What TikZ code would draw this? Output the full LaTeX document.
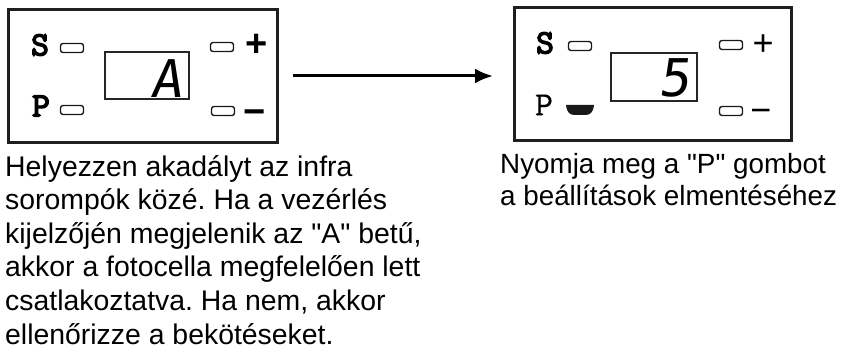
\documentclass[tikz,border=0pt]{standalone}
\usepackage{fontspec}
\setmainfont{Liberation Sans}[Ligatures=TeXOff]
\newfontfamily\segfnt{DejaVu Sans Mono}
\newfontfamily\keyfntb{lmmono10-regular.otf}[FakeBold=4]
\newfontfamily\keyfntr{lmmono10-regular.otf}[FakeBold=0.6]
\usetikzlibrary{arrows.meta}
\begin{document}
\frenchspacing
\begin{tikzpicture}[x=1pt,y=-1pt,
  panel/.style={draw=black!88, line width=3pt, inner sep=0pt, outer sep=0pt},
  display/.style={draw=black!85, line width=1.3pt, inner sep=0pt},
  btn/.style={draw=black!90, line width=1.4pt, rounded corners=2.5pt, minimum width=23pt, minimum height=9pt, inner sep=0pt},
  keyb/.style={inner sep=0pt, font=\keyfntb\fontsize{34}{34}\selectfont},
  keyr/.style={inner sep=0pt, font=\keyfntr\fontsize{34}{34}\selectfont},
  signb/.style={inner sep=0pt, font=\bfseries\fontsize{38}{38}\selectfont},
  signr/.style={inner sep=0pt, font=\fontsize{36}{36}\selectfont},
  seg/.style={inner sep=0pt, font=\segfnt\fontsize{52}{52}\selectfont, xslant=0.15},
  caption/.style={inner sep=0pt, anchor=base west},
  flow/.style={line width=3pt, -{Latex[length=18pt,width=15pt]}}
]
\useasboundingbox (0,0) rectangle (848,350);
% left panel
\node[panel, minimum width=269pt, minimum height=132pt] (lpanel) at (142.5,76) {};
\node[display, minimum width=84pt, minimum height=47pt] (ldisp) at (147,75.5) {};
\node[seg] (lchar) at (169,79) {A};
\node[keyb] (lS) at (40,45) {S};
\node[keyb] (lP) at (41,106) {P};
\node[btn] (lSb) at (72,48) {};
\node[btn] (lPb) at (72,110) {};
\node[btn] (lplb) at (222,47) {};
\node[btn] (lmib) at (223,111) {};
\node[signb] (lplus) at (257,45) {+};
\node[signb] (lminus) at (255,117) {−};
% right panel
\node[panel, minimum width=277pt, minimum height=132pt] (rpanel) at (652.5,74) {};
\node[display, minimum width=86pt, minimum height=48pt] (rdisp) at (654,77) {};
\node[seg] (rchar) at (677,78) {5};
\node[keyb] (rS) at (545,43) {S};
\node[keyr] (rP) at (544,105) {P};
\node[btn] (rSb) at (580,46) {};
\coordinate (rPb) at (580,110);
\fill[black!90] ([xshift=-14pt,yshift=5pt]rPb) -- ([xshift=14pt,yshift=5pt]rPb)
  .. controls ([xshift=13pt,yshift=-3pt]rPb) and ([xshift=10pt,yshift=-5pt]rPb) .. ([xshift=5pt,yshift=-5pt]rPb)
  -- ([xshift=-5pt,yshift=-5pt]rPb)
  .. controls ([xshift=-10pt,yshift=-5pt]rPb) and ([xshift=-13pt,yshift=-3pt]rPb) .. cycle;
\node[btn] (rplb) at (731,45) {};
\node[btn] (rmib) at (731,111) {};
\node[signr] (rplus) at (763,45) {+};
\node[signr] (rminus) at (761,116) {−};
% arrow
\draw[flow] ([xshift=16pt]lpanel.east) -- ([xshift=-21pt]rpanel.west |- lpanel.east);
% captions
\node[caption] (ltext) at (5,176) {\parbox[t]{500pt}{\fontsize{28.4}{33.6}\selectfont\raggedright
Helyezzen akadályt az infra\\
sorompók közé. Ha a vezérlés\\
kijelzőjén megjelenik az "A" betű,\\
akkor a fotocella megfelelően lett\\
csatlakoztatva. Ha nem, akkor\\
ellenőrizze a bekötéseket.}};
\node[caption] (rtext) at (500,173) {\parbox[t]{400pt}{\fontsize{27.8}{32}\selectfont\raggedright
Nyomja meg a "P" gombot\\
a beállítások elmentéséhez}};
\end{tikzpicture}
\end{document}
